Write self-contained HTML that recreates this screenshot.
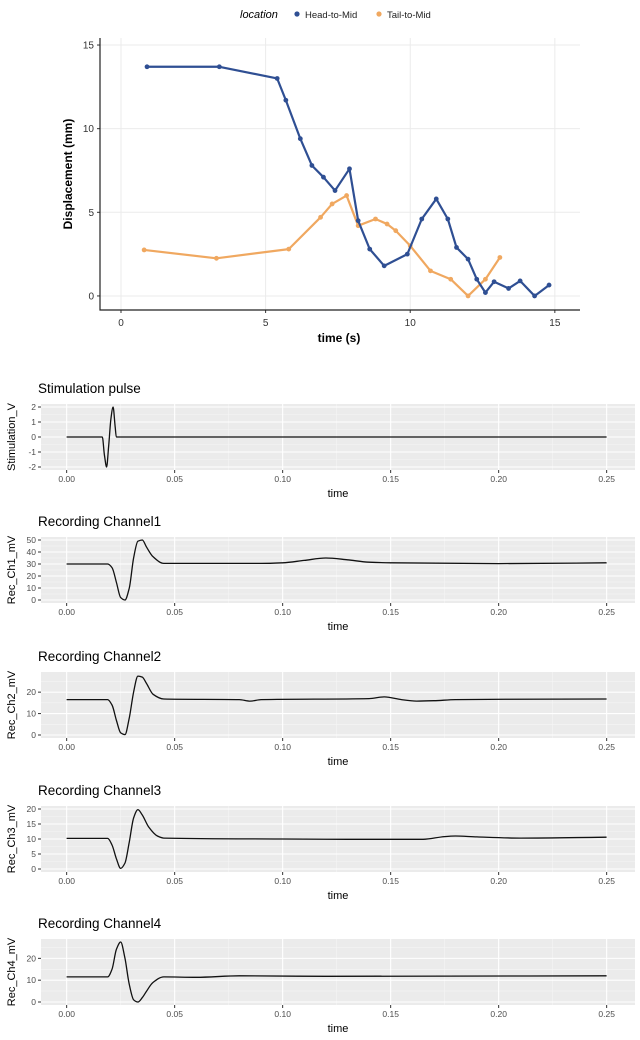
<!DOCTYPE html>
<html><head><meta charset="utf-8"><style>
body{margin:0;background:#fff;font-family:"Liberation Sans",Arial,sans-serif;}
svg text{font-family:"Liberation Sans",Arial,sans-serif;}
</style></head><body>
<svg id="root" width="640" height="1035" viewBox="0 0 640 1035" xmlns="http://www.w3.org/2000/svg">
<g id="top"></g>
<g id="bottom"></g>
</svg>
<script>
// ---- Top chart data ----
const headT = [0.9,3.4,5.4,5.7,6.2,6.6,7.0,7.4,7.9,8.2,8.6,9.1,9.9,10.4,10.9,11.3,11.6,12.0,12.3,12.6,12.9,13.4,13.8,14.3,14.8];
const headV = [13.7,13.7,13.0,11.7,9.4,7.8,7.1,6.3,7.6,4.5,2.8,1.8,2.5,4.6,5.8,4.6,2.9,2.2,1.0,0.2,0.85,0.45,0.9,0.0,0.65];
const tailT = [0.8,3.3,5.8,6.9,7.3,7.8,8.2,8.8,9.2,9.5,10.0,10.7,11.4,12.0,12.6,13.1];
const tailV = [2.75,2.25,2.8,4.7,5.5,6.0,4.2,4.6,4.3,3.9,3.0,1.5,1.0,0.0,1.0,2.3];
const topXTicks = [0,5,10,15];
const topYTicks = [0,5,10,15];

// ---- Signal panel data ----
const stimT = [0,0.0165,0.0175,0.0185,0.0195,0.0205,0.0215,0.0225,0.023,0.25];
const stimV = [0,0,-1.2,-2,-0.5,1.2,2,0.6,0,0];
const ch1T = [0,0.019,0.021,0.023,0.025,0.027,0.029,0.031,0.033,0.035,0.037,0.040,0.045,0.09,0.10,0.11,0.12,0.13,0.14,0.15,0.20,0.25];
const ch1V = [30,30,27,15,2,0,10,35,49,50,44,36,30.5,30.5,31,33,35,33.5,31.5,31,30.3,31];
const ch2T = [0,0.019,0.021,0.023,0.025,0.027,0.029,0.031,0.033,0.035,0.037,0.040,0.045,0.08,0.085,0.09,0.14,0.147,0.155,0.162,0.17,0.18,0.25];
const ch2V = [16.5,16.5,14,7,1,0.2,8,20,27.5,27,24,19,16.8,16.5,15.8,16.5,17,17.8,16.5,15.8,16,16.5,16.8];
const ch3T = [0,0.019,0.021,0.023,0.025,0.027,0.029,0.031,0.033,0.035,0.038,0.042,0.045,0.10,0.13,0.165,0.175,0.18,0.19,0.21,0.25];
const ch3V = [10.2,10.2,8,3.5,0.2,2,9,17,19.8,18,14,11,10.3,10.0,9.9,9.9,10.8,11,10.7,10.3,10.6];
const ch4T = [0,0.019,0.021,0.023,0.025,0.027,0.029,0.031,0.033,0.035,0.037,0.040,0.045,0.06,0.08,0.12,0.25];
const ch4V = [11.5,11.5,15,24,27.5,20,8,1,0,2,5,9,11.5,11.3,12,11.8,12];
const xTicks = [0,0.05,0.10,0.15,0.20,0.25];
const stimYTicks = [-2,-1,0,1,2];
const ch1YTicks = [0,10,20,30,40,50];
const ch2YTicks = [0,10,20];
const ch3YTicks = [0,5,10,15,20];
const ch4YTicks = [0,10,20];

const NS="http://www.w3.org/2000/svg";
function mk(parent,tag,attrs,text){const e=document.createElementNS(NS,tag);for(const k in attrs)e.setAttribute(k,attrs[k]);if(text!==undefined)e.textContent=text;parent.appendChild(e);return e;}
// monotone cubic (Fritsch-Carlson) in x
function smoothPath(pts){
  const n=pts.length;
  const dx=[],m=[];
  for(let i=0;i<n-1;i++){dx.push(pts[i+1][0]-pts[i][0]);m.push((pts[i+1][1]-pts[i][1])/dx[i]);}
  const tg=new Array(n);
  tg[0]=m[0];tg[n-1]=m[n-2];
  for(let i=1;i<n-1;i++){
    if(m[i-1]*m[i]<=0)tg[i]=0;
    else{const w1=2*dx[i]+dx[i-1],w2=dx[i]+2*dx[i-1];tg[i]=(w1+w2)/(w1/m[i-1]+w2/m[i]);}
  }
  let d="M"+pts[0][0].toFixed(1)+","+pts[0][1].toFixed(1);
  for(let i=0;i<n-1;i++){
    const h=dx[i]/3;
    d+=" C"+(pts[i][0]+h).toFixed(1)+","+(pts[i][1]+tg[i]*h).toFixed(1)+" "+(pts[i+1][0]-h).toFixed(1)+","+(pts[i+1][1]-tg[i+1]*h).toFixed(1)+" "+pts[i+1][0].toFixed(1)+","+pts[i+1][1].toFixed(1);
  }
  return d;
}

// ---- Top chart ----
(function(){
  const g=document.getElementById('top');
  const L=100,R=580,T=38,B=310;
  const xMin=-0.726,xMax=15.87,yMin=-0.84,yMax=15.42;
  const xs=v=>L+(v-xMin)/(xMax-xMin)*(R-L);
  const ys=v=>B-(v-yMin)/(yMax-yMin)*(B-T);
  for(const t of topXTicks){
    const l=mk(g,'line',{x1:xs(t),x2:xs(t),y1:T,y2:B,stroke:'#ebebeb','stroke-width':1});
    
    
    mk(g,'line',{x1:xs(t),x2:xs(t),y1:B,y2:B+3,stroke:'#333'});
    const tx=mk(g,'text',{x:xs(t),y:B+16,'text-anchor':'middle','font-size':10,fill:'#333'},String(t));
    
    
  }
  for(const t of topYTicks){
    const l=mk(g,'line',{x1:L,x2:R,y1:ys(t),y2:ys(t),stroke:'#ebebeb','stroke-width':1});
    
    
    mk(g,'line',{x1:L-3,x2:L,y1:ys(t),y2:ys(t),stroke:'#333'});
    const tx=mk(g,'text',{x:L-6,y:ys(t)+3.5,'text-anchor':'end','font-size':10,fill:'#333'},String(t));
    
    
  }
  const ax=mk(g,'path',{d:`M${L},${T} V${B} H${R}`,stroke:'#222','stroke-width':1.2,fill:'none'});
  
  
  const series=[[tailT,tailV,'#f0a860','tail-to-mid'],[headT,headV,'#2f4f93','head-to-mid']];
  for(const [tt,vv,col,nm] of series){
    const pts=tt.map((t,i)=>[xs(t),ys(vv[i])]);
    const p=mk(g,'polyline',{points:pts.map(p=>p.join(',')).join(' '),fill:'none',stroke:col,'stroke-width':2.2,'stroke-linejoin':'round'});
    
    
    for(const q of pts){
      const c=mk(g,'circle',{cx:q[0],cy:q[1],r:2.4,fill:col});
      
      
    }
  }
  const yt=mk(g,'text',{x:72,y:(T+B)/2,transform:`rotate(-90 72 ${(T+B)/2})`,'text-anchor':'middle','font-size':12,'font-weight':'bold',fill:'#000'},'Displacement (mm)');
  
  
  const xt=mk(g,'text',{x:339,y:342,'text-anchor':'middle','font-size':12,'font-weight':'bold',fill:'#000'},'time (s)');
  
  
  const lg=mk(g,'g',{});
  
  
  mk(lg,'text',{x:240,y:18,'font-size':11,'font-style':'italic',fill:'#000'},'location');
  const e1=mk(lg,'g',{});
  
  
  mk(e1,'circle',{cx:297,cy:14,r:2.6,fill:'#2f4f93'});
  mk(e1,'text',{x:305,y:18,'font-size':9.5,fill:'#222'},'Head-to-Mid');
  const e2=mk(lg,'g',{});
  
  
  mk(e2,'circle',{cx:379,cy:14,r:2.6,fill:'#f0a860'});
  mk(e2,'text',{x:387,y:18,'font-size':9.5,fill:'#222'},'Tail-to-Mid');
})();

// ---- Signal panels ----
const panels=[
  {title:'Stimulation pulse',ylab:'Stimulation_V',t:stimT,v:stimV,yt:stimYTicks,top:404,lo:-2,hi:2,name:'stimulation'},
  {title:'Recording Channel1',ylab:'Rec_Ch1_mV',t:ch1T,v:ch1V,yt:ch1YTicks,top:537,lo:0,hi:50,name:'channel1'},
  {title:'Recording Channel2',ylab:'Rec_Ch2_mV',t:ch2T,v:ch2V,yt:ch2YTicks,top:672,lo:0,hi:28,name:'channel2'},
  {title:'Recording Channel3',ylab:'Rec_Ch3_mV',t:ch3T,v:ch3V,yt:ch3YTicks,top:806,lo:0,hi:20,name:'channel3'},
  {title:'Recording Channel4',ylab:'Rec_Ch4_mV',t:ch4T,v:ch4V,yt:ch4YTicks,top:939,lo:0,hi:27.5,name:'channel4'}
];
(function(){
  const root=document.getElementById('bottom');
  const L=41,R=635,H=66;
  const xMin=-0.0125*0.95,xMax=0.25+0.0125*1.05;
  const xs=v=>L+(v-xMin)/(xMax-xMin)*(R-L);
  for(const p of panels){
    const g=mk(root,'g',{});
    
    
    const T=p.top,B=T+H;
    const pad=(p.hi-p.lo)*0.05;
    const yMin=Math.min(p.lo,Math.min(...p.v))-pad,yMax=Math.max(p.hi,Math.max(...p.v))+pad;
    const ys=v=>B-(v-yMin)/(yMax-yMin)*(B-T);
    const bg=mk(g,'rect',{x:L,y:T,width:R-L,height:H,fill:'#ebebeb'});
    
    
    const step=p.yt.length>1?p.yt[1]-p.yt[0]:1;
    for(let i=0;i<p.yt.length+1;i++){
      const m=p.yt[0]-step/2+i*step;
      if(m>yMin&&m<yMax)mk(g,'line',{x1:L,x2:R,y1:ys(m),y2:ys(m),stroke:'#f5f5f5','stroke-width':0.6});
    }
    for(let i=0;i<xTicks.length-1;i++){
      const m=(xTicks[i]+xTicks[i+1])/2;
      mk(g,'line',{x1:xs(m),x2:xs(m),y1:T,y2:B,stroke:'#f5f5f5','stroke-width':0.6});
    }
    for(const t of p.yt){
      mk(g,'line',{x1:L,x2:R,y1:ys(t),y2:ys(t),stroke:'#fff','stroke-width':1.1});
      mk(g,'line',{x1:L-3,x2:L,y1:ys(t),y2:ys(t),stroke:'#333'});
      const tx=mk(g,'text',{x:L-5,y:ys(t)+3,'text-anchor':'end','font-size':8.5,fill:'#4d4d4d'},String(t));
      
      
    }
    for(const t of xTicks){
      mk(g,'line',{x1:xs(t),x2:xs(t),y1:T,y2:B,stroke:'#fff','stroke-width':1.1});
      mk(g,'line',{x1:xs(t),x2:xs(t),y1:B,y2:B+3,stroke:'#333'});
      const tx=mk(g,'text',{x:xs(t),y:B+12,'text-anchor':'middle','font-size':8.5,fill:'#4d4d4d'},t.toFixed(2));
      
      
    }
    const pts=p.t.map((t,i)=>[xs(t),ys(p.v[i])]);
    const ln=mk(g,'path',{d:smoothPath(pts),fill:'none',stroke:'#111','stroke-width':1.3});
    
    
    const ti=mk(g,'text',{x:38,y:T-11,'font-size':13.5,fill:'#000'},p.title);
    
    
    const yl=mk(g,'text',{x:15,y:T+H/2,transform:`rotate(-90 15 ${T+H/2})`,'text-anchor':'middle','font-size':11,fill:'#000'},p.ylab);
    
    
    const xl=mk(g,'text',{x:338,y:B+27,'text-anchor':'middle','font-size':11,fill:'#000'},'time');
    
    
  }
})();
</script>
</body></html>
